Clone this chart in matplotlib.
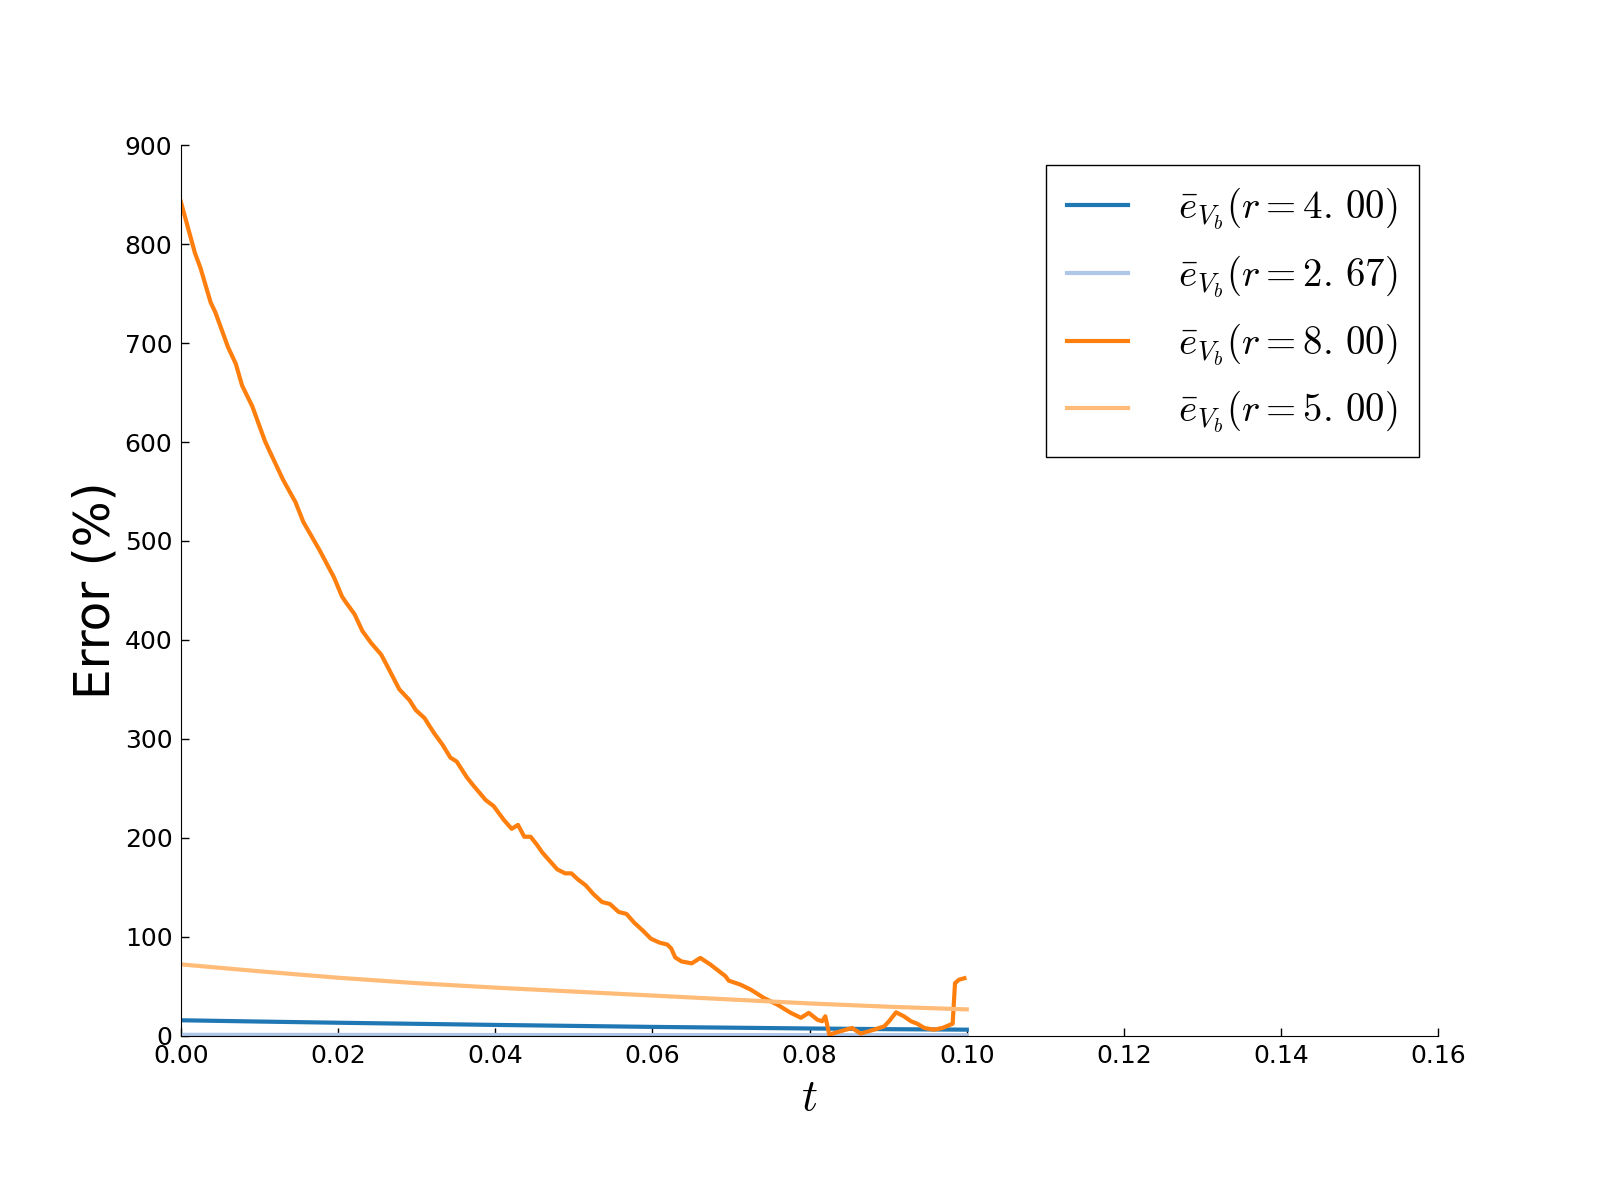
import matplotlib
matplotlib.use("Agg")
import matplotlib.pyplot as plt

plt.rcParams['mathtext.fontset'] = 'cm'
plt.rcParams['font.family'] = 'DejaVu Sans'

# r = 8.00 (orange)
t_r8 = [0, 0.0018, 0.0025, 0.0038, 0.0044, 0.006, 0.007, 0.0078, 0.0091, 0.0107,
        0.0114, 0.013, 0.0146, 0.0156, 0.0164, 0.0177, 0.0195, 0.0205, 0.021, 0.0221,
        0.0231, 0.0242, 0.0255, 0.0265, 0.0278, 0.0291, 0.0299, 0.031, 0.0322, 0.0333,
        0.0343, 0.0351, 0.0364, 0.0372, 0.0388, 0.0398, 0.0411, 0.0421, 0.0429, 0.0437,
        0.0445, 0.0453, 0.046, 0.0479, 0.0489, 0.0497, 0.0505, 0.0515, 0.0525, 0.0536,
        0.0546, 0.0557, 0.0567, 0.0577, 0.0588, 0.0598, 0.0609, 0.0619, 0.0624, 0.0629,
        0.0637, 0.065, 0.0661, 0.0674, 0.0693, 0.0697, 0.0712, 0.0725, 0.0742, 0.0759,
        0.0776, 0.0789, 0.0799, 0.081, 0.0816, 0.082, 0.0825, 0.0835, 0.0854, 0.0865,
        0.0882, 0.0895, 0.0901, 0.091, 0.092, 0.0929, 0.0937, 0.0946, 0.0958, 0.0969,
        0.0982, 0.0985, 0.099, 0.0997]
err_r8 = [843, 791, 776, 741, 731, 696, 679, 657, 636, 601,
          589, 562, 539, 519, 508, 490, 463, 444, 438, 426,
          409, 397, 385, 370, 350, 339, 329, 321, 306, 294,
          281, 277, 261, 253, 238, 232, 218, 209, 213, 201,
          201, 193, 185, 168, 164, 164, 158, 152, 143, 135,
          133, 125, 123, 114, 106, 98, 94, 92, 88, 79,
          75, 73, 78.5, 71.7, 60, 55.6, 51.5, 46.5, 38, 31.3,
          23, 18, 23, 16, 14.5, 19.5, 1, 3.4, 7.7, 2,
          6, 9.4, 14.5, 23.5, 19.5, 14.5, 12, 7.7, 6, 7.7,
          12, 53, 56.5, 58]

# smooth series on a coarse grid
t_grid = [0, 0.01, 0.02, 0.03, 0.04, 0.05, 0.06, 0.07, 0.08, 0.09, 0.10]
err_r4 = [15.5, 14.2, 13.0, 11.9, 10.8, 9.8, 8.8, 8.0, 7.2, 6.5, 6.0]
err_r267 = [0.8, 0.75, 0.7, 0.65, 0.6, 0.55, 0.5, 0.5, 0.45, 0.45, 0.4]
err_r5 = [72, 65, 58.5, 53, 48.5, 44.5, 40.5, 36.5, 32.5, 29.2, 26.5]

labels = [r'$\bar{e}_{V_b}(r=4.\,00)$', r'$\bar{e}_{V_b}(r=2.\,67)$',
          r'$\bar{e}_{V_b}(r=8.\,00)$', r'$\bar{e}_{V_b}(r=5.\,00)$']
colors = ['#1f77b4', '#aec7e8', '#ff7f0e', '#ffbb78']

fig, ax = plt.subplots(figsize=(16, 12), dpi=100)
fig.subplots_adjust(left=0.113, right=0.899, bottom=0.137, top=0.879)

ax.plot(t_grid, err_r4, color=colors[0], lw=3, label=labels[0])
ax.plot(t_grid, err_r267, color=colors[1], lw=3, label=labels[1])
ax.plot(t_r8, err_r8, color=colors[2], lw=3, label=labels[2])
ax.plot(t_grid, err_r5, color=colors[3], lw=3, label=labels[3])

ax.set_xlim(0, 0.16)
ax.set_ylim(0, 900)
ax.set_xticks([0, 0.02, 0.04, 0.06, 0.08, 0.10, 0.12, 0.14, 0.16])
ax.set_yticks(range(0, 901, 100))
ax.xaxis.set_major_formatter(matplotlib.ticker.FormatStrFormatter('%.2f'))

ax.spines['top'].set_visible(False)
ax.spines['right'].set_visible(False)
ax.tick_params(direction='in', length=6, width=1, labelsize=18, pad=6,
               top=False, right=False)

ax.set_xlabel(r'$t$', fontsize=32, labelpad=6)
ax.set_ylabel('Error (%)', fontsize=35, labelpad=4)

leg = ax.legend(loc='upper right', fontsize=28, fancybox=False, framealpha=1,
                edgecolor='black', handlelength=1.55, handletextpad=1.3,
                labelspacing=0.55, borderaxespad=0.5, borderpad=0.55)
leg.get_frame().set_linewidth(1)

plt.savefig('out.png', dpi=100)
